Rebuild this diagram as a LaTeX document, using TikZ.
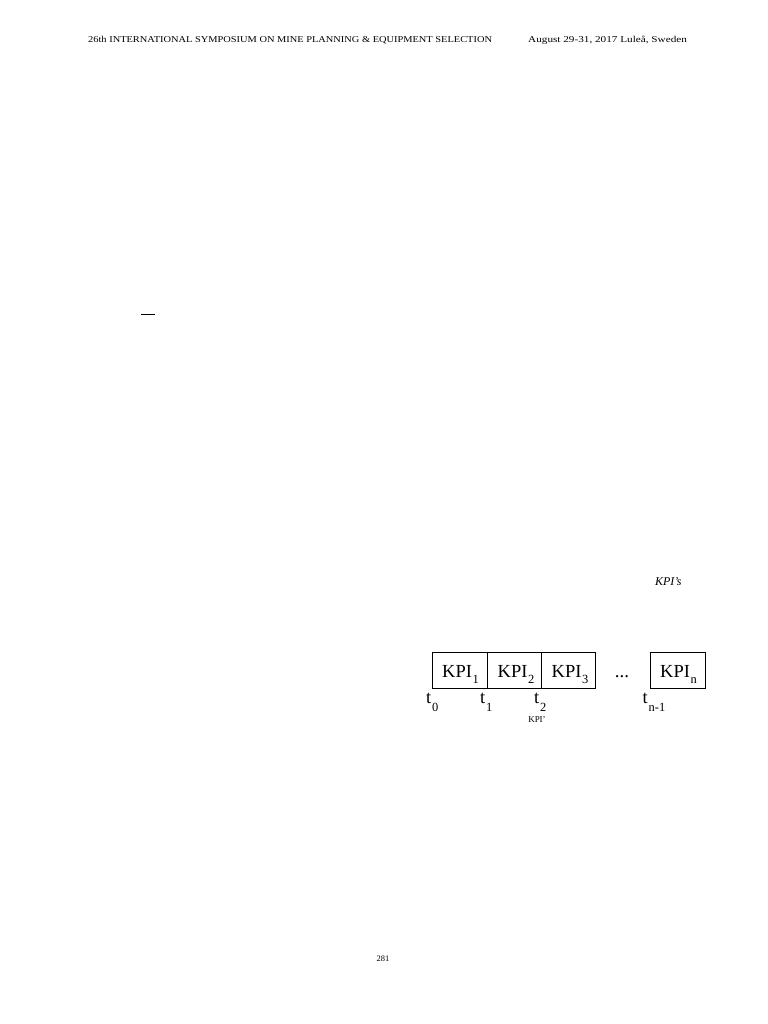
\documentclass[tikz,border=0pt]{standalone}
\usepackage{fontspec}
\setmainfont{Liberation Serif}
\newcommand{\kpisub}[1]{\hspace{0.8bp}\raisebox{-5.5bp}{\fontsize{12.5}{12.5}\selectfont #1}}
\newcommand{\tsub}[1]{\hspace{0.8bp}\raisebox{-8bp}{\fontsize{12.5}{12.5}\selectfont #1}}
\begin{document}
\begin{tikzpicture}[x=1bp,y=-1bp,
  kpibox/.style={draw,line width=1.3bp,minimum height=35.5bp,inner sep=0pt,anchor=north west},
  kpilab/.style={inner sep=0pt,anchor=base west,font=\fontsize{18.5}{19}\selectfont},
  tlab/.style={inner sep=0pt,anchor=base west,font=\fontsize{18.5}{19}\selectfont},
  hdr/.style={inner sep=0pt,anchor=base west,font=\fontsize{9}{10}\selectfont}]
\useasboundingbox[fill=white] (0,0) rectangle (768,1024);
\node[hdr] (h1) at (88,42) {\scalebox{1.16}[1]{26th INTERNATIONAL SYMPOSIUM ON MINE PLANNING \& EQUIPMENT SELECTION}};
\node[hdr] (h2) at (528,42) {\scalebox{1.25}[1]{August 29-31, 2017 Luleå, Sweden}};
\draw[line width=1bp] (141,314) coordinate (d1) -- (155,314) coordinate (d2);
\node[inner sep=0pt,anchor=base west,font=\fontsize{12}{13}\selectfont\itshape] (kpis) at (655,585) {KPI's};
\node[kpibox,minimum width=55bp] (k1) at (432,652) {};
\node[kpibox,minimum width=54bp] (k2) at (487,652) {};
\node[kpibox,minimum width=54bp] (k3) at (541,652) {};
\node[kpibox,minimum width=55bp] (kn) at (650,652) {};
\node[kpilab] (l1) at ([xshift=10bp,yshift=11bp]k1.south west) {KPI\kpisub{1}};
\node[kpilab] (l2) at ([xshift=10.5bp,yshift=11bp]k2.south west) {KPI\kpisub{2}};
\node[kpilab] (l3) at ([xshift=10.5bp,yshift=11bp]k3.south west) {KPI\kpisub{3}};
\node[kpilab] (ln) at ([xshift=10bp,yshift=11bp]kn.south west) {KPI\kpisub{n}};
\node[inner sep=0pt,anchor=base,font=\fontsize{19}{19}\selectfont] (dots) at (622,677) {...};
\node[tlab] (t0) at (426,703) {t\tsub{0}};
\node[tlab] (t1) at (480,703) {t\tsub{1}};
\node[tlab] (t2) at (534,703) {t\tsub{2}};
\node[tlab] (tn) at (642.5,703) {t\tsub{n-1}};
\node[inner sep=0pt,anchor=base,font=\fontsize{9}{10}\selectfont] (kp) at (537,722.5) {KPI'};
\node[inner sep=0pt,anchor=base,font=\fontsize{8.5}{10}\selectfont] (pg) at (383,961) {281};
\end{tikzpicture}
\end{document}
